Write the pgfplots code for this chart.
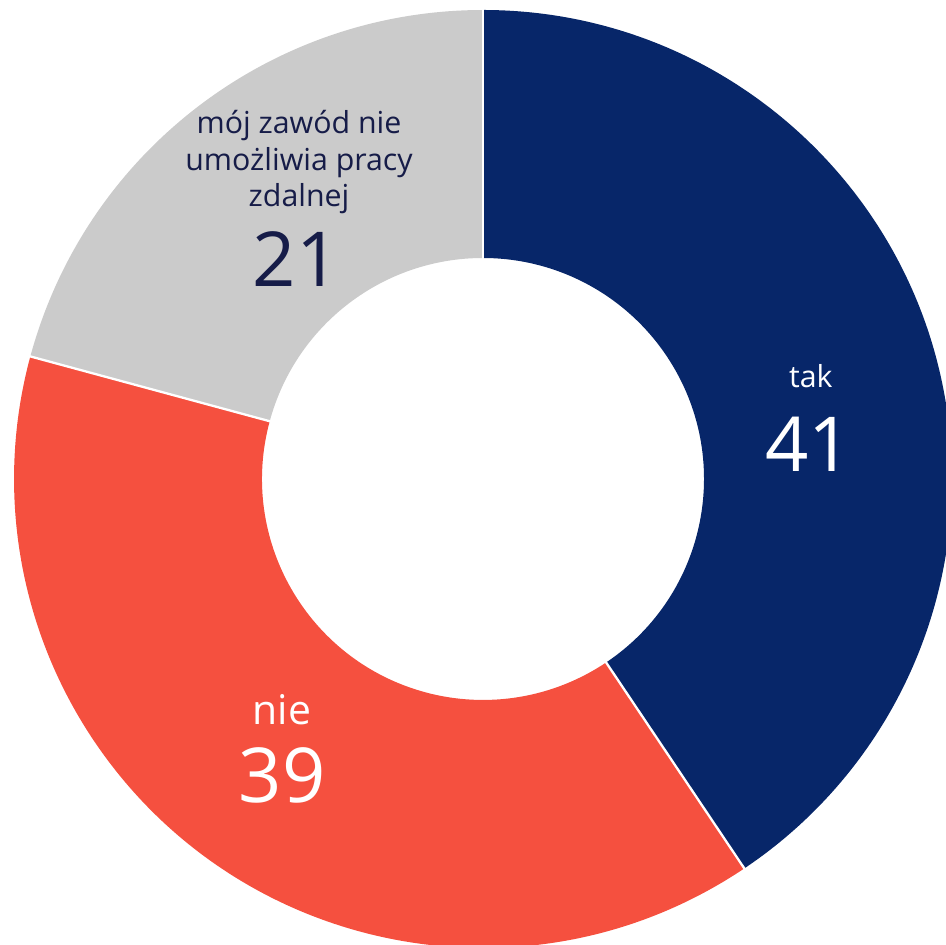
\documentclass[border=0pt]{standalone}
\usepackage{fontspec}
\setmainfont{Open Sans}
\usepackage{pgfplots}
\usepackage{pgfplotstable}
\pgfplotsset{compat=1.18}
\definecolor{taknavy}{HTML}{072669}
\definecolor{niered}{HTML}{F5503F}
\definecolor{zgray}{HTML}{CBCBCB}
\definecolor{txtdark}{HTML}{161C48}

% answers (per cent)
\pgfplotstableread[col sep=comma]{
label,value
tak,41
nie,39
zawod,21
}\donutdata

\def\Ro{5cm}    % outer radius = 1 axis unit
\def\Ri{2.356cm}% inner radius
% annular sector from angle #1 to #2, fill colour #3
\newcommand\ringpart[3]{%
  \fill[#3] ([shift={(#1:\Ro)}]axis cs:0,0) arc[start angle=#1,end angle=#2,radius=\Ro]
    -- ([shift={(#2:\Ri)}]axis cs:0,0) arc[start angle=#2,end angle=#1,radius=\Ri] -- cycle;}
\newcommand\gap[1]{%
  \draw[white,line width=0.7pt] ([shift={(#1:2.2cm)}]axis cs:0,0) -- ([shift={(#1:5.3cm)}]axis cs:0,0);}

\begin{document}
\begin{tikzpicture}
\pgfplotstablegetelem{0}{value}\of\donutdata \let\vA\pgfplotsretval
\pgfplotstablegetelem{1}{value}\of\donutdata \let\vB\pgfplotsretval
\pgfplotstablegetelem{2}{value}\of\donutdata \let\vC\pgfplotsretval
\pgfmathsetmacro\total{\vA+\vB+\vC}
\pgfmathsetmacro\aA{90}
\pgfmathsetmacro\aB{\aA-360*\vA/\total}
\pgfmathsetmacro\aC{\aB-360*\vB/\total}
\pgfmathsetmacro\aD{\aC-360*\vC/\total}
\begin{axis}[
  x=5cm, y=5cm, scale only axis, hide axis,
  xmin=-1.0299, xmax=0.9872, ymin=-0.9936, ymax=1.0213,
  clip=true,
]
\coordinate (bl) at (rel axis cs:0,0);
\coordinate (tr) at (rel axis cs:1,1);
\ringpart{\aA}{\aB}{taknavy}
\ringpart{\aB}{\aC}{niered}
\ringpart{\aC}{\aD}{zgray}
\gap{\aA}\gap{\aB}\gap{\aC}
\node[anchor=base,text=white,font=\fontsize{9.2}{11}\selectfont] at (axis cs:0.699,0.194) {tak};
\node[anchor=base,text=white,font=\fontsize{23}{28}\selectfont] at (axis cs:0.695,0.0155) {\vA};
\node[anchor=base,text=white,font=\fontsize{12.4}{15}\selectfont] at (axis cs:-0.4286,-0.5245) {nie};
\node[anchor=base,text=white,font=\fontsize{23}{28}\selectfont] at (axis cs:-0.428,-0.6906) {\vB};
\node[anchor=base,align=center,text=txtdark,font=\fontsize{9.2}{11.1}\selectfont] at (axis cs:-0.3923,0.5806) {mój zawód nie\\umożliwia pracy\\zdalnej};
\node[anchor=base,text=txtdark,font=\fontsize{23}{28}\selectfont] at (axis cs:-0.3987,0.41) {\vC};
\end{axis}
\pgfresetboundingbox
\useasboundingbox (bl) rectangle (tr);
\end{tikzpicture}
\end{document}
